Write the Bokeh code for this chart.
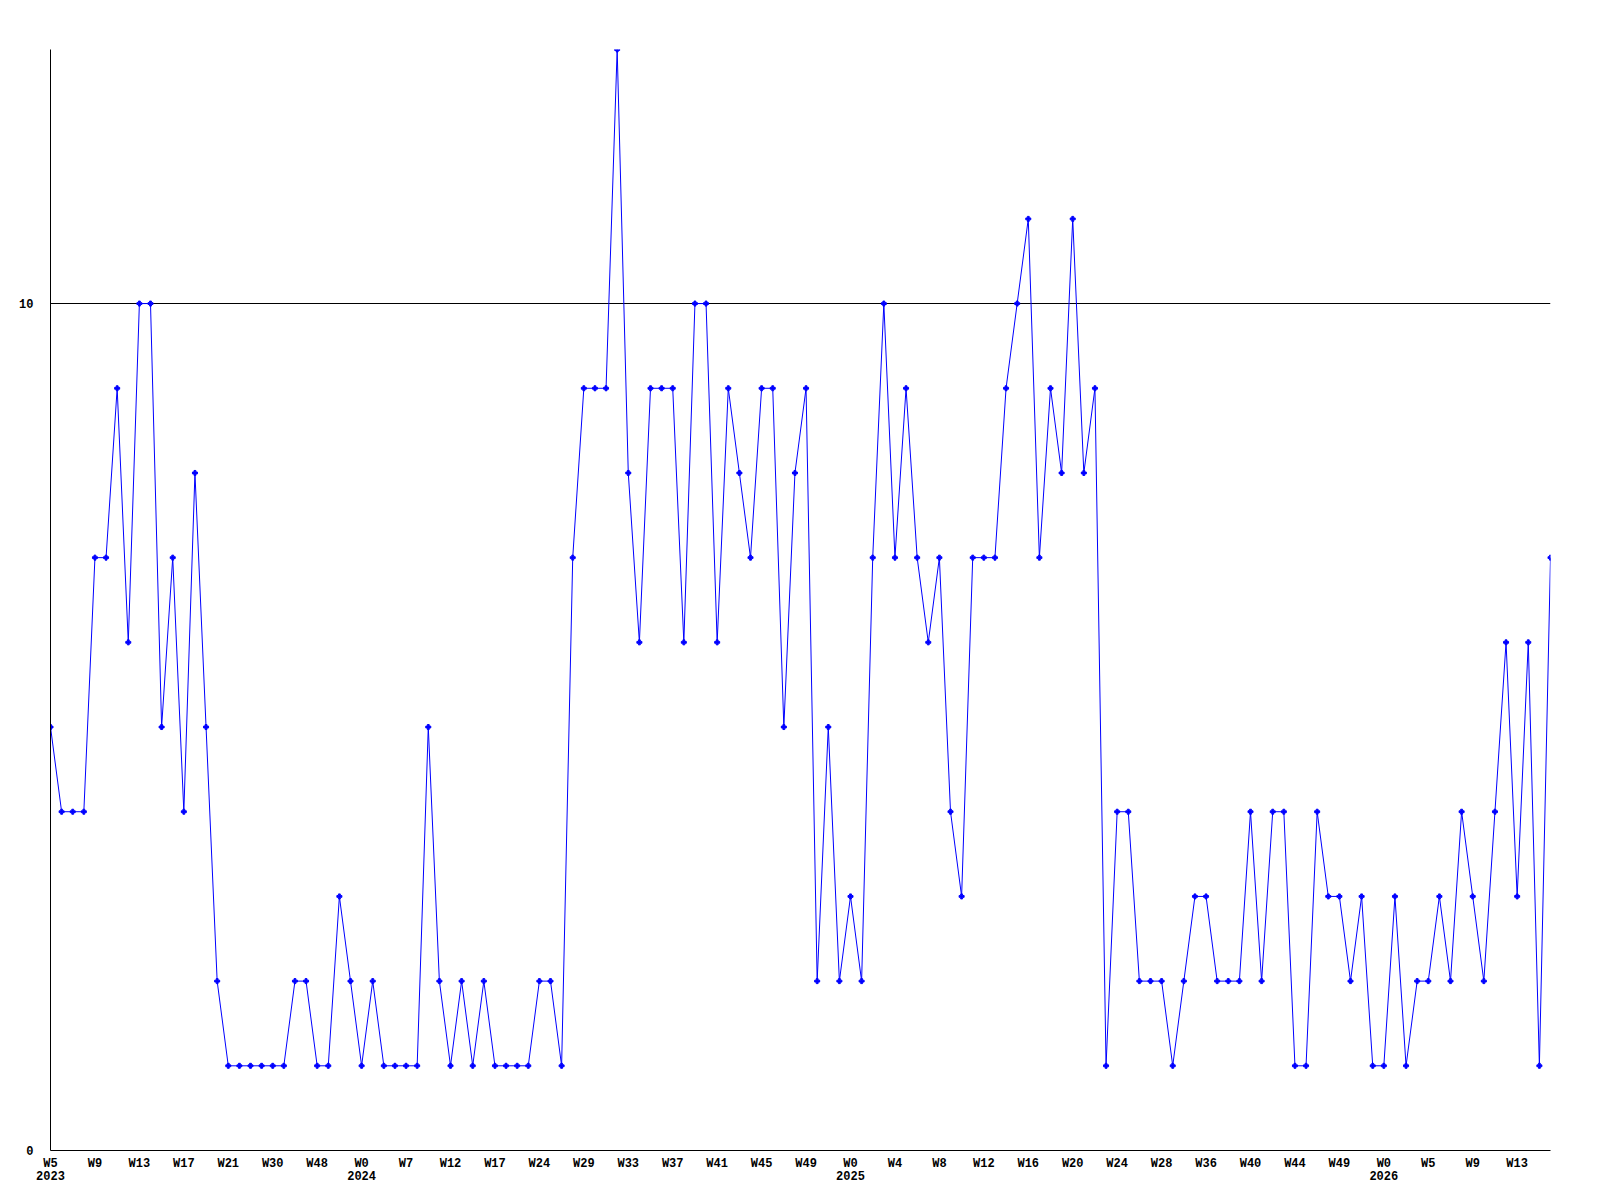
from bokeh.plotting import figure
from bokeh.models import Range1d, FixedTicker, LinearAxis, Grid, ColumnDataSource
from bokeh.embed import file_html
from bokeh.resources import INLINE

# Weekly values (136 weeks)
values = [5, 4, 4, 4, 7, 7, 9, 6, 10, 10,
          5, 7, 4, 8, 5, 2, 1, 1, 1, 1,
          1, 1, 2, 2, 1, 1, 3, 2, 1, 2,
          1, 1, 1, 1, 5, 2, 1, 2, 1, 2,
          1, 1, 1, 1, 2, 2, 1, 7, 9, 9,
          9, 13, 8, 6, 9, 9, 9, 6, 10, 10,
          6, 9, 8, 7, 9, 9, 5, 8, 9, 2,
          5, 2, 3, 2, 7, 10, 7, 9, 7, 6,
          7, 4, 3, 7, 7, 7, 9, 10, 11, 7,
          9, 8, 11, 8, 9, 1, 4, 4, 2, 2,
          2, 1, 2, 3, 3, 2, 2, 2, 4, 2,
          4, 4, 1, 1, 4, 3, 3, 2, 3, 1,
          1, 3, 1, 2, 2, 3, 2, 4, 3, 2,
          4, 6, 3, 6, 1, 7]
x_index = list(range(len(values)))

week_tick_labels = ["W5", "W9", "W13", "W17", "W21", "W30", "W48", "W0", "W7", "W12",
                    "W17", "W24", "W29", "W33", "W37", "W41", "W45", "W49", "W0", "W4",
                    "W8", "W12", "W16", "W20", "W24", "W28", "W36", "W40", "W44", "W49",
                    "W0", "W5", "W9", "W13"]
week_tick_pos = [4 * i for i in range(len(week_tick_labels))]
year_labels = ["2023", "2024", "2025", "2026"]
year_pos = [0, 28, 72, 120]
y_ticks = [0, 10]
y_grid_ticks = [10]

FONT = "Liberation Mono"

p = figure(width=1568, height=1188, output_backend="svg", toolbar_location=None,
           x_range=Range1d(0, len(values) - 1), y_range=Range1d(0, 13),
           x_axis_type=None, y_axis_type=None,
           min_border_left=50, min_border_top=49, min_border_right=18, min_border_bottom=38)
p.outline_line_color = None
p.background_fill_color = "white"
p.border_fill_color = "white"

def style_axis(ax, standoff):
    ax.major_tick_in = 0
    ax.major_tick_out = 0
    ax.minor_tick_line_color = None
    ax.major_tick_line_color = None
    ax.major_label_text_font = FONT
    ax.major_label_text_font_style = "bold"
    ax.major_label_text_font_size = "12px"
    ax.major_label_text_color = "black"
    ax.major_label_standoff = standoff

yax = LinearAxis(ticker=FixedTicker(ticks=y_ticks, minor_ticks=[]))
style_axis(yax, 17)
yax.axis_line_color = "black"
p.add_layout(yax, "left")

wax = LinearAxis(ticker=FixedTicker(ticks=week_tick_pos, minor_ticks=[]),
                 major_label_overrides={pos: lab for pos, lab in zip(week_tick_pos, week_tick_labels)})
style_axis(wax, 6)
wax.axis_line_color = "black"
p.add_layout(wax, "below")

yrax = LinearAxis(ticker=FixedTicker(ticks=year_pos, minor_ticks=[]),
                  major_label_overrides={pos: lab for pos, lab in zip(year_pos, year_labels)})
style_axis(yrax, -3)
yrax.axis_line_color = None
p.add_layout(yrax, "below")

grid = Grid(dimension=1, ticker=FixedTicker(ticks=y_grid_ticks, minor_ticks=[]),
            grid_line_color="black", grid_line_width=1)
p.add_layout(grid)

src = ColumnDataSource(dict(x=x_index, y=values))
p.line("x", "y", source=src, line_color="#0000ff", line_width=1)
p.scatter("x", "y", source=src, marker="plus", size=5, color="#0000ff")

open("out.html", "w").write(file_html(p, INLINE))
